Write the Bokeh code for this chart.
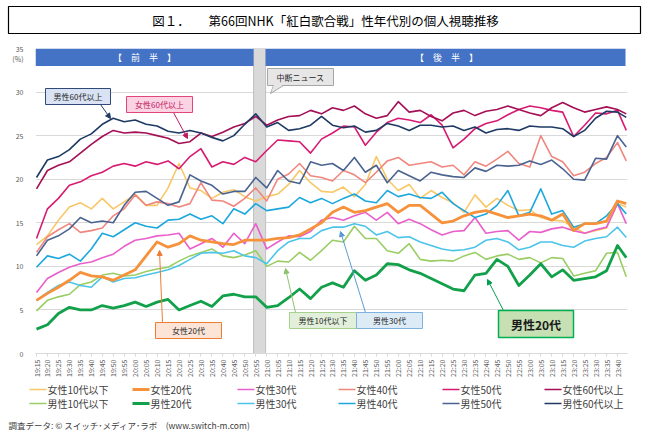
import math
from bokeh.plotting import figure
from bokeh.layouts import column
from bokeh.models import (Range1d, FixedTicker, BoxAnnotation, Label, Arrow, NormalHead,
                          PolyAnnotation)
from bokeh.embed import file_html
from bokeh.resources import INLINE

FONT = "Noto Sans CJK JP"

# ---------------- data ----------------
tick_labels = ["19:15", "19:20", "19:25", "19:30", "19:35", "19:40", "19:45", "19:50", "19:55",
               "20:00", "20:05", "20:10", "20:15", "20:20", "20:25", "20:30", "20:35", "20:40",
               "20:45", "20:50", "20:55", "21:00", "21:05", "21:10", "21:15", "21:20", "21:25",
               "21:30", "21:35", "21:40", "21:45", "21:50", "21:55", "22:00", "22:05", "22:10",
               "22:15", "22:20", "22:25", "22:30", "22:35", "22:40", "22:45", "22:50", "22:55",
               "23:00", "23:05", "23:10", "23:15", "23:20", "23:25", "23:30", "23:35", "23:40"]
times = tick_labels + ["23:44"]
y_ticks = [0, 5, 10, 15, 20, 25, 30, 35]
unit_label = "(%)"

f10 = [12.5, 13.5, 15.3, 16.8, 17.3, 16.6, 17.8, 16.6, 17.4, 18.3,
       17.0, 17.0, 19.0, 21.8, 19.0, 18.7, 17.8, 18.5, 18.8, 18.0,
       17.5, 18.0, 18.3, 19.4, 21.0, 19.6, 18.6, 18.5, 19.1, 18.0,
       19.4, 22.6, 20.0, 18.7, 19.4, 17.8, 18.7, 17.9, 17.3, 16.2,
       18.2, 16.8, 17.8, 17.0, 16.4, 16.5, 15.6, 15.3, 15.2, 14.5,
       13.8, 14.1, 14.4, 17.2, 16.8]
f20 = [6.1, 6.9, 7.6, 8.4, 9.3, 8.9, 8.8, 8.4, 9.0, 9.6,
       11.2, 12.8, 12.2, 12.6, 13.5, 13.0, 12.8, 12.6, 12.5, 13.0,
       13.0, 13.0, 13.2, 13.3, 13.6, 14.3, 15.0, 16.2, 16.8, 16.2,
       16.4, 16.8, 17.2, 16.2, 17.0, 17.0, 16.0, 15.0, 15.2, 15.8,
       16.2, 16.4, 16.0, 15.6, 15.8, 16.0, 15.8, 15.3, 16.0, 14.1,
       14.9, 14.9, 15.2, 17.5, 17.2]
f30 = [7.0, 8.6, 9.3, 9.9, 10.3, 10.5, 11.0, 11.4, 12.3, 13.0,
       13.2, 13.5, 13.6, 13.8, 12.0, 12.6, 13.2, 12.2, 13.8, 12.6,
       14.9, 12.0, 12.8, 13.5, 13.4, 14.0, 15.3, 15.6, 15.3, 15.8,
       16.2, 15.3, 16.2, 14.9, 15.4, 14.9, 14.2, 13.6, 14.0, 14.1,
       15.6, 13.8, 14.0, 14.1, 13.0, 14.0, 13.9, 14.3, 14.5, 14.1,
       13.8, 14.2, 14.5, 17.2, 14.9]
f40 = [11.6, 13.4, 14.2, 14.9, 13.9, 14.1, 14.4, 15.8, 16.6, 18.2,
       17.0, 17.4, 17.2, 16.8, 17.2, 19.6, 17.6, 17.5, 16.9, 17.8,
       19.0, 17.5, 20.0, 20.6, 21.8, 20.4, 20.2, 19.8, 21.0, 20.5,
       19.6, 20.8, 22.1, 22.5, 21.6, 21.8, 22.0, 21.4, 21.6, 20.5,
       22.0, 21.5, 22.3, 23.2, 21.8, 21.4, 25.0, 22.6, 22.0, 20.4,
       20.8, 21.8, 22.5, 24.2, 22.1]
f50 = [13.2, 16.6, 17.8, 19.3, 19.7, 20.4, 20.8, 21.5, 21.8, 21.5,
       22.0, 21.7, 22.1, 21.2, 22.6, 23.5, 21.4, 22.0, 21.7, 22.5,
       22.0, 23.3, 24.5, 24.4, 24.3, 23.0, 24.6, 25.3, 26.1, 26.0,
       23.9, 25.4, 26.5, 27.0, 26.8, 26.5, 27.4, 26.2, 23.6, 24.6,
       25.8, 26.4, 26.7, 27.4, 28.0, 28.4, 28.2, 27.9, 27.7, 24.9,
       26.2, 27.6, 27.5, 27.9, 25.6]
f60 = [18.9, 21.0, 21.6, 22.0, 23.0, 24.0, 24.9, 25.6, 25.3, 25.4,
       25.3, 25.0, 24.7, 24.1, 24.3, 25.3, 24.9, 25.4, 26.0, 26.4,
       27.2, 26.2, 26.8, 27.2, 27.3, 27.9, 27.5, 28.2, 27.9, 28.4,
       27.5, 27.0, 27.3, 28.9, 27.7, 27.9, 27.2, 26.7, 27.6, 27.9,
       27.3, 27.8, 28.0, 28.4, 28.0, 27.6, 27.3, 28.2, 28.8, 28.2,
       27.7, 28.0, 28.3, 28.0, 27.5]
m10 = [4.9, 6.1, 6.5, 6.8, 7.9, 8.2, 9.0, 9.2, 8.9, 9.0,
       9.4, 9.7, 9.9, 10.6, 11.2, 11.6, 12.0, 11.2, 11.0, 11.3,
       11.8, 10.0, 10.6, 10.5, 11.6, 10.7, 11.8, 13.0, 12.8, 14.6,
       13.2, 13.2, 11.8, 11.5, 12.6, 10.8, 10.6, 10.7, 10.6, 11.2,
       11.6, 10.8, 11.2, 11.4, 10.8, 11.0, 10.4, 11.0, 10.9, 8.9,
       9.2, 9.5, 11.5, 11.6, 8.8]
m20 = [2.8, 3.3, 4.6, 5.3, 5.0, 5.0, 5.5, 5.2, 5.5, 5.9,
       5.4, 5.9, 6.2, 5.0, 5.5, 6.0, 5.4, 6.6, 6.8, 6.5,
       6.5, 5.3, 5.5, 6.4, 7.4, 6.3, 7.6, 8.1, 7.6, 9.5,
       8.4, 9.0, 10.3, 10.2, 9.6, 9.2, 8.6, 8.0, 7.4, 7.2,
       9.0, 9.2, 10.8, 10.0, 7.8, 9.0, 10.3, 8.8, 9.6, 8.4,
       8.6, 8.8, 9.5, 12.4, 11.0]
m30 = [6.1, 7.0, 7.8, 8.2, 7.8, 7.6, 8.8, 8.2, 8.6, 8.7,
       9.0, 9.3, 9.6, 10.1, 10.8, 11.5, 11.6, 11.5, 11.8, 11.2,
       11.0, 10.3, 11.8, 12.8, 13.2, 13.2, 14.1, 14.5, 14.5, 14.9,
       14.6, 13.6, 14.0, 13.3, 13.4, 12.8, 12.4, 12.0, 11.8, 11.9,
       12.2, 13.0, 13.2, 12.8, 11.9, 12.2, 12.8, 12.8, 12.4, 12.2,
       12.9, 13.2, 13.4, 14.5, 13.3]
m40 = [9.9, 11.2, 10.9, 11.4, 10.6, 12.0, 13.8, 13.4, 14.2, 15.0,
       14.6, 14.4, 15.3, 15.4, 16.0, 15.4, 15.8, 14.9, 16.6, 16.0,
       17.2, 16.4, 16.6, 16.8, 17.9, 17.3, 17.8, 17.2, 17.8, 18.3,
       17.5, 17.3, 18.7, 18.0, 18.3, 17.9, 17.8, 18.5, 17.2, 16.4,
       15.6, 16.0, 17.0, 18.7, 15.8, 16.2, 18.9, 16.0, 16.4, 14.5,
       14.9, 14.9, 15.8, 17.2, 16.0]
m50 = [11.2, 13.0, 13.5, 14.3, 15.6, 15.0, 15.2, 15.0, 17.0, 18.5,
       18.6, 17.8, 17.0, 17.4, 20.5, 19.8, 19.3, 18.3, 18.6, 18.6,
       20.2, 19.0, 21.0, 19.8, 19.5, 22.0, 21.6, 21.8, 21.0, 22.5,
       20.8, 21.6, 19.6, 21.0, 20.4, 19.8, 20.8, 20.5, 20.3, 20.2,
       21.3, 20.9, 21.6, 21.5, 21.6, 22.1, 21.7, 22.2, 21.2, 20.0,
       19.9, 22.4, 22.3, 25.0, 23.7]
m60 = [20.2, 22.2, 22.6, 23.4, 24.6, 25.2, 26.3, 27.0, 26.6, 26.8,
       26.3, 26.1, 25.5, 25.3, 25.6, 25.3, 24.8, 24.4, 25.0, 26.3,
       27.5, 26.0, 26.5, 25.6, 25.8, 26.2, 27.2, 26.2, 25.9, 26.1,
       25.4, 25.6, 26.4, 26.1, 25.6, 26.2, 26.2, 26.0, 26.1, 25.6,
       26.0, 25.3, 25.7, 25.8, 25.6, 26.1, 26.0, 26.0, 25.8, 24.9,
       25.6, 27.0, 27.8, 27.7, 27.1]

news_break = ["20:54", "20:59:30"]   # 中断ニュース

labels = {"f10": "女性10代以下", "f20": "女性20代", "f30": "女性30代", "f40": "女性40代",
          "f50": "女性50代", "f60": "女性60代以上",
          "m10": "男性10代以下", "m20": "男性20代", "m30": "男性30代", "m40": "男性40代",
          "m50": "男性50代", "m60": "男性60代以上"}


# ---------------- helpers ----------------
def to_min(t):
    parts = [int(v) for v in t.split(":")]
    sec = parts[2] if len(parts) > 2 else 0
    return parts[0] * 60 + parts[1] + sec / 60.0 - (19 * 60 + 15)


xs = [to_min(t) for t in times]
tick_x = [to_min(t) for t in tick_labels]

W = 650
# page layout (page px; the page body has no margin): title 0-40, main 40-381, bottom 381-434
MAIN_Y0, BOT_Y0, BOT_Y1 = 40, 381, 434

# ---------------- title figure ----------------
pt = figure(width=W, height=MAIN_Y0, x_range=Range1d(0, W), y_range=Range1d(0, MAIN_Y0),
            x_axis_type=None, y_axis_type=None, output_backend="svg", toolbar_location=None,
            min_border=0, title=None, frame_align=False)
pt.outline_line_color = None
pt.grid.visible = False


def tsy(py):
    return MAIN_Y0 - py


pt.add_layout(BoxAnnotation(left=8, right=640, top=tsy(6), bottom=tsy(33),
                            left_units="screen", right_units="screen", top_units="screen",
                            bottom_units="screen", fill_color="white", fill_alpha=1,
                            line_color="#000000", line_width=1.2, line_alpha=1))
pt.add_layout(Label(x=325, y=tsy(19.5), x_units="screen", y_units="screen",
                    text="図１．　　第66回NHK「紅白歌合戦」性年代別の個人視聴推移",
                    text_align="center", text_baseline="middle", text_font_size="12.5px",
                    text_font=FONT, text_color="#000000"))

# ---------------- main figure ----------------
FL, FR, FT, FB = 35, 627, 48, 353   # frame edges in page px


def sx(px):
    return px - FL


def sy(py):
    return FB - py


px_per_min = (617 - 36) / 265.0
x0 = -(36 - FL) / px_per_min
x1 = x0 + (FR - FL) / px_per_min

p = figure(width=W, height=BOT_Y0 - MAIN_Y0, x_range=Range1d(x0, x1), y_range=Range1d(0, 35),
           output_backend="svg", toolbar_location=None, title=None, frame_align=False,
           min_border_left=FL, min_border_right=W - FR, min_border_top=FT - MAIN_Y0,
           min_border_bottom=BOT_Y0 - FB)
p.outline_line_color = None
p.xgrid.visible = False
p.ygrid.ticker = FixedTicker(ticks=y_ticks)
p.ygrid.grid_line_color = "#D9D9D9"
p.ygrid.grid_line_width = 1

unit_pos = 33.85
p.yaxis.ticker = FixedTicker(ticks=y_ticks + [unit_pos])
p.yaxis.major_label_overrides = {unit_pos: unit_label}
p.yaxis.axis_line_color = None
p.yaxis.major_tick_line_color = None
p.yaxis.minor_tick_line_color = None
p.yaxis.major_label_standoff = 6
p.yaxis.major_label_text_font_size = "7px"
p.yaxis.major_label_text_color = "#595959"
p.yaxis.major_label_text_font = FONT

p.xaxis.ticker = FixedTicker(ticks=tick_x)
p.xaxis.major_label_overrides = {tx: lab for tx, lab in zip(tick_x, tick_labels)}
p.xaxis.major_label_orientation = math.pi / 2
p.xaxis.axis_line_color = "#D9D9D9"
p.xaxis.major_tick_line_color = "#D9D9D9"
p.xaxis.major_tick_out = 3
p.xaxis.major_tick_in = 0
p.xaxis.minor_tick_line_color = None
p.xaxis.major_label_standoff = 3
p.xaxis.major_label_text_font_size = "7px"
p.xaxis.major_label_text_color = "#595959"
p.xaxis.major_label_text_font = FONT

# news break grey band
nb0, nb1 = to_min(news_break[0]), to_min(news_break[1])
p.add_layout(BoxAnnotation(left=nb0, right=nb1, bottom=0, top=35, fill_color="#D9D9D9",
                           fill_alpha=1, line_color="#BFBFBF", line_alpha=1, level="underlay"))

# ---------------- lines ----------------
col = {
    "f10": "#F8C868", "f20": "#F7923C", "f30": "#E95FCB", "f40": "#F0877E",
    "f50": "#D81B72", "f60": "#A50F55",
    "m10": "#9ACD63", "m20": "#12A14A", "m30": "#4CC4EA", "m40": "#1CA7DD",
    "m50": "#4A6390", "m60": "#1F3A64",
}
series = {"f10": f10, "f20": f20, "f30": f30, "f40": f40, "f50": f50, "f60": f60,
          "m10": m10, "m20": m20, "m30": m30, "m40": m40, "m50": m50, "m60": m60}
order = ["f10", "f30", "f40", "m10", "m30", "m40", "m50", "f50", "f60", "m60", "f20", "m20"]


def lw_of(key):
    return 2.8 if key in ("f20", "m20") else 1.6


for key in order:
    p.line(xs, series[key], line_color=col[key], line_width=lw_of(key), line_join="round")

# ---------------- header bands ----------------
p.add_layout(BoxAnnotation(left=x0, right=nb0, bottom=33, top=35, fill_color="#4472C4",
                           fill_alpha=1, line_color=None))
p.add_layout(BoxAnnotation(left=nb1, right=x1 - 0.9, bottom=33, top=35, fill_color="#4472C4",
                           fill_alpha=1, line_color=None))
p.add_layout(Label(x=(x0 + nb0) / 2, y=34, text="【　前　半　】", text_color="white",
                   text_align="center", text_baseline="middle", text_font_size="9px",
                   text_font=FONT))
p.add_layout(Label(x=(nb1 + x1) / 2, y=34, text="【　後　半　】", text_color="white",
                   text_align="center", text_baseline="middle", text_font_size="9px",
                   text_font=FONT))


def arrow(a, b, c):
    p.add_layout(Arrow(end=NormalHead(size=5, fill_color=c, line_color=c, line_width=1),
                       x_start=sx(a[0]), y_start=sy(a[1]), x_end=sx(b[0]), y_end=sy(b[1]),
                       start_units="screen", end_units="screen", line_color=c, line_width=1))


def boxed(px0, py0, px1, py1, text, fill, line, tcolor="#262626", size="8px", bold=False, lw=1):
    p.add_layout(BoxAnnotation(left=sx(px0), right=sx(px1), top=sy(py0), bottom=sy(py1),
                               left_units="screen", right_units="screen",
                               top_units="screen", bottom_units="screen",
                               fill_color=fill, fill_alpha=1, line_color=line, line_width=lw,
                               line_alpha=1))
    p.add_layout(Label(x=sx((px0 + px1) / 2), y=sy((py0 + py1) / 2), x_units="screen",
                       y_units="screen", text=text, text_align="center", text_baseline="middle",
                       text_font_size=size, text_font=FONT, text_color=tcolor,
                       text_font_style="bold" if bold else "normal"))


# callouts
arrow((100, 104), (110, 118), "#1F3A64")
boxed(45, 88, 110, 104, "男性60代以上", "#DAE3F3", "#2F4A78")
arrow((173, 112), (187, 138), "#C0185E")
boxed(126, 96, 192, 112, "女性60代以上", "#FBD3E3", "#E0457B", "#C0185E")

p.add_layout(PolyAnnotation(xs=[sx(273), sx(283), sx(270)], ys=[sy(85), sy(85), sy(93)],
                            xs_units="screen", ys_units="screen", fill_color="#E7E6E6",
                            fill_alpha=1, line_color="#A6A6A6", line_alpha=1))
boxed(267, 68, 333, 85, "中断ニュース", "#E7E6E6", "#A6A6A6")
p.add_layout(PolyAnnotation(xs=[sx(273.5), sx(282.5), sx(271)], ys=[sy(84.5), sy(84.5), sy(91)],
                            xs_units="screen", ys_units="screen", fill_color="#E7E6E6",
                            fill_alpha=1, line_color=None))

arrow((162, 322), (159, 250), "#ED7D31")
boxed(155, 322, 221, 338, "女性20代", "#FCE4D6", "#ED7D31")
arrow((295, 312), (285, 268), "#8DC26B")
boxed(289, 312, 356, 328, "男性10代以下", "#E2EFDA", "#A9D18E")
arrow((365, 312), (340, 231), "#5B9BD5")
boxed(356, 312, 422, 328, "男性30代", "#DDEBF7", "#7FB2E0")
arrow((503, 310), (487, 279), "#00A050")
boxed(498, 310, 573, 337, "男性20代", "#C6E0B4", "#00B050", "#1a1a1a", "12px", True, 1.5)

# ---------------- legend + footer figure ----------------
pb = figure(width=W, height=BOT_Y1 - BOT_Y0, x_range=Range1d(0, W),
            y_range=Range1d(0, BOT_Y1 - BOT_Y0), x_axis_type=None, y_axis_type=None,
            output_backend="svg", toolbar_location=None, min_border=0, title=None,
            frame_align=False)
pb.outline_line_color = None
pb.grid.visible = False


def by(py):
    return BOT_Y1 - py


pairs = [("f10", "m10"), ("f20", "m20"), ("f30", "m30"),
         ("f40", "m40"), ("f50", "m50"), ("f60", "m60")]
col_px = [29, 132, 237, 338, 442, 544]
row_py = [389, 403]
for px, keys in zip(col_px, pairs):
    for py, key in zip(row_py, keys):
        pb.add_layout(Arrow(end=None, x_start=px, y_start=by(py), x_end=px + 17,
                            y_end=by(py), start_units="screen", end_units="screen",
                            line_color=col[key], line_width=lw_of(key)))
        pb.add_layout(Label(x=px + 18, y=by(py), x_units="screen", y_units="screen",
                            text=labels[key], text_align="left", text_baseline="middle",
                            text_font_size="10px", text_font=FONT, text_color="#404040"))

pb.add_layout(Label(x=8, y=by(424), x_units="screen", y_units="screen",
                    text="調査データ: © スイッチ･メディア･ラボ　(www.switch-m.com)",
                    text_align="left", text_baseline="middle", text_font_size="8.5px",
                    text_color="#404040", text_font=FONT))

layout = column(pt, p, pb, spacing=0)
open("out.html", "w").write(file_html(layout, INLINE))
